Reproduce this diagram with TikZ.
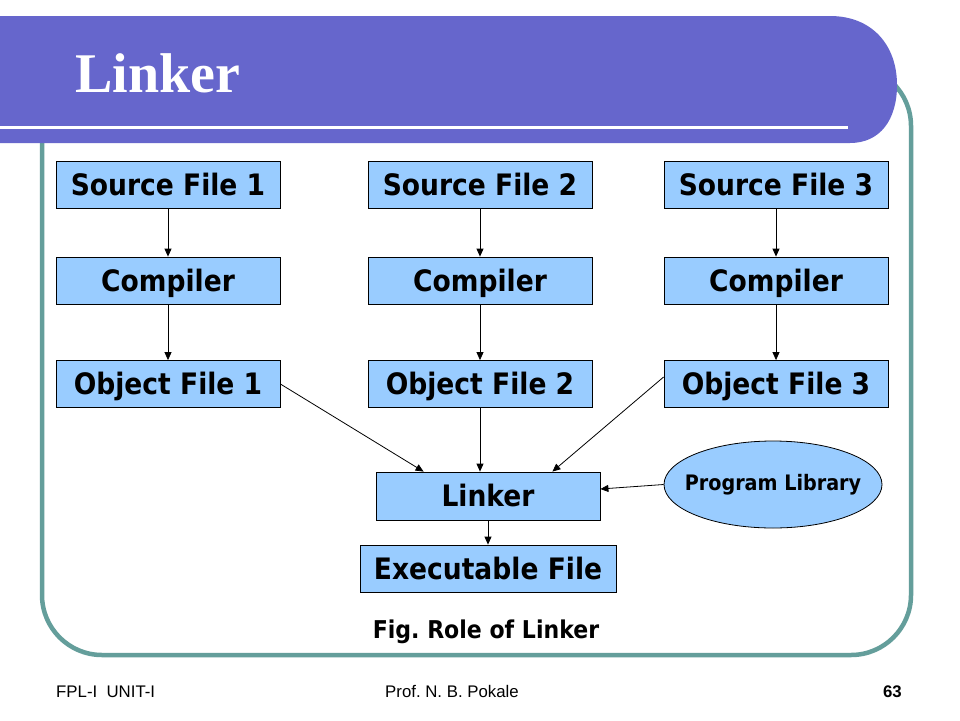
\documentclass[tikz,border=0pt]{standalone}
\usepackage{fontspec}
\setmainfont{DejaVu Sans}
\newfontfamily\bx{DejaVu Sans}[FakeStretch=0.9]
\newfontfamily\titlefont{Liberation Serif}
\newfontfamily\footfont{Liberation Sans}
\usetikzlibrary{arrows.meta,shapes.geometric}
\definecolor{barblue}{RGB}{102,102,204}
\definecolor{frameteal}{RGB}{100,158,155}
\definecolor{boxblue}{RGB}{153,204,255}
\frenchspacing
\begin{document}
\begin{tikzpicture}[x=1pt,y=-1pt,
  blk/.style={draw=black, line width=0.8pt, fill=boxblue, minimum width=224pt, minimum height=47pt, inner sep=0pt,
    font=\bx\bfseries\fontsize{29.5}{29.5}\selectfont, text height=21.5pt, text depth=0pt},
  lib/.style={ellipse, draw=black, line width=0.8pt, fill=boxblue, minimum width=218pt, minimum height=87pt, inner sep=0pt},
  libtxt/.style={inner sep=0pt, font=\bx\bfseries\fontsize{21.3}{21.3}\selectfont},
  conn/.style={-{Triangle[length=8pt,width=7pt]}, line width=0.8pt},
  foot/.style={anchor=base west, inner sep=0pt, font=\footfont\fontsize{16.8}{16.8}\selectfont}]
\useasboundingbox (0,0) rectangle (960,720);
\fill[white] (0,0) rectangle (960,720);
% frame
\draw[frameteal, line width=4.5pt, rounded corners=60pt] (42,66) rectangle (911,655);
% title bar
\fill[barblue] (0,16) -- (830,16) .. controls (872,16) and (897,45) .. (897,85)
  .. controls (897,120) and (880,143) .. (850,143) -- (0,143) -- cycle;
\draw[white, line width=3pt] (0,127.5) -- (848,127.5);
\node[anchor=base west, inner sep=0pt, text=white, font=\titlefont\bfseries\fontsize{56}{56}\selectfont] (title) at (75,92) {Linker};
% boxes
\node[blk] (s1) at (168,184.5) {Source File 1};
\node[blk] (s2) at (480,184.5) {Source File 2};
\node[blk] (s3) at (776,184.5) {Source File 3};
\node[blk] (c1) at (168,280.5) {Compiler};
\node[blk] (c2) at (480,280.5) {Compiler};
\node[blk] (c3) at (776,280.5) {Compiler};
\node[blk] (o1) at (168,384) {Object File 1};
\node[blk] (o2) at (480,384) {Object File 2};
\node[blk] (o3) at (776,384) {Object File 3};
\node[blk, minimum height=48pt] (lk) at (488,496) {Linker};
\node[blk, minimum width=256pt] (ex) at (488,568.5) {Executable File};
\node[lib] (pl) at (773,484.5) {};
\node[libtxt] (pltxt) at (pl.center) {Program Library};
% connectors
\draw[conn] (s1) -- (c1);
\draw[conn] (s2) -- (c2);
\draw[conn] (s3) -- (c3);
\draw[conn] (c1) -- (o1);
\draw[conn] (c2) -- (o2);
\draw[conn] (c3) -- (o3);
\draw[conn] (o1.east) -- ([xshift=48pt]lk.north west);
\draw[conn] (o2.south) -- (o2.south |- lk.north);
\draw[conn] ([yshift=7pt]o3.west) -- ([xshift=-48pt]lk.north east);
\draw[conn] (pl.west) -- ([yshift=7pt]lk.east);
\draw[conn] (lk) -- (ex);
% caption and footer
\node[anchor=base, inner sep=0pt, font=\bx\bfseries\fontsize{24.5}{24.5}\selectfont] (cap) at (486,638) {Fig. Role of Linker};
\node[foot] (f1) at (56,697) {FPL-I\ \ UNIT-I};
\node[foot] (f2) at (385,697) {Prof. N. B. Pokale};
\node[foot, anchor=base east, font=\footfont\bfseries\fontsize{16.8}{16.8}\selectfont] (f3) at (902,697) {63};
\end{tikzpicture}
\end{document}
